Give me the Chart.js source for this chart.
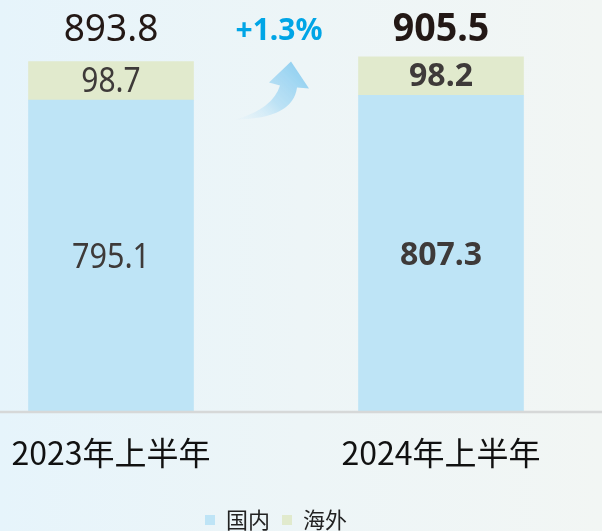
<!DOCTYPE html>
<html>
<head>
<meta charset="utf-8">
<script src="https://cdn.jsdelivr.net/npm/chart.js@4/dist/chart.umd.min.js"></script>
<style>
  html, body { margin:0; padding:0; width:602px; height:531px; overflow:hidden; }
  body { background: linear-gradient(90deg, #e6f4fb 0%, #edf5f7 50%, #f2f6f4 100%); }
  #wrap { position:absolute; left:0; top:0; width:602px; height:541px; }
</style>
</head>
<body>
<div id="wrap"><canvas id="c"></canvas></div>
<script>
// data (units as shown)
const categories = ['2023年上半年', '2024年上半年'];
const seriesNames = ['国内', '海外'];
const domestic = [795.1, 807.3];
const overseas = [98.7, 98.2];
const totals = [893.8, 905.5];
const growthText = '+1.3%';

const BLUE = '#bee4f6', GREEN = '#e1eacd';
const boldIdx = 1; // second year is highlighted in bold

function drawText(ctx, s, x, y, font, color, sx){
  ctx.save();
  ctx.translate(x, y);
  ctx.scale(sx || 1, 1);
  ctx.font = font;
  ctx.fillStyle = color;
  ctx.textAlign = 'center';
  ctx.textBaseline = 'middle';
  ctx.fillText(s, 0, 0);
  ctx.restore();
}

const decoPlugin = {
  id: 'deco',
  afterDatasetsDraw(chart){
    const ctx = chart.ctx;
    const ys = chart.scales.y;
    const m0 = chart.getDatasetMeta(0), m1 = chart.getDatasetMeta(1);
    const base = ys.getPixelForValue(0);

    // baseline across the full width
    ctx.save();
    ctx.strokeStyle = '#d6d8d8';
    ctx.lineWidth = 2.5;
    ctx.beginPath(); ctx.moveTo(0, base + 1); ctx.lineTo(chart.width, base + 1); ctx.stroke();
    ctx.restore();

    // value labels
    categories.forEach((_, i) => {
      const b = m0.data[i], o = m1.data[i];
      const bold = i === boldIdx;
      const x = b.x;
      drawText(ctx, domestic[i].toFixed(1), x, (b.y + b.base) / 2 + 3,
        bold ? 'bold 32px "Noto Sans"' : '34px "Noto Sans"', '#3e3a39', bold ? 1 : 0.9);
      drawText(ctx, overseas[i].toFixed(1), x, (o.y + o.base) / 2 + 1,
        bold ? 'bold 32px "Noto Sans"' : '34px "Noto Sans"', '#3e3a39', bold ? 1 : 0.88);
      drawText(ctx, totals[i].toFixed(1), x, ys.getPixelForValue(totals[0]) - 32,
        bold ? 'bold 40px "Noto Sans"' : '39px "Noto Sans"', '#231815', bold ? 0.94 : 0.95);
    });

    // growth arrow between the bars
    const cx = (m0.data[0].x + m0.data[1].x) / 2;
    const ty = ys.getPixelForValue(totals[0]);
    const g = ctx.createLinearGradient(cx - 40, ty + 60, cx + 20, ty);
    g.addColorStop(0, 'rgba(220,240,250,0.1)');
    g.addColorStop(0.5, 'rgba(175,220,244,0.8)');
    g.addColorStop(1, '#90cff0');
    ctx.save();
    ctx.fillStyle = g;
    ctx.beginPath();
    ctx.moveTo(cx + 15, ty);
    ctx.lineTo(cx + 33, ty + 27);
    ctx.lineTo(cx + 21, ty + 26);
    ctx.quadraticCurveTo(cx + 17, ty + 57, cx - 40, ty + 58);
    ctx.quadraticCurveTo(cx - 3, ty + 47, cx + 4, ty + 24);
    ctx.lineTo(cx - 7, ty + 21);
    ctx.closePath();
    ctx.fill();
    ctx.restore();

    drawText(ctx, growthText, cx + 3, ty - 30, 'bold 30px "Noto Sans"', '#00a5e6', 1);
  }
};

new Chart(document.getElementById('c'), {
  type: 'bar',
  data: {
    labels: categories,
    datasets: [
      { label: seriesNames[0], data: domestic, backgroundColor: BLUE, barThickness: 165, clip: false },
      { label: seriesNames[1], data: overseas, backgroundColor: GREEN, barThickness: 165, clip: false }
    ]
  },
  options: {
    responsive: true,
    maintainAspectRatio: false,
    devicePixelRatio: 1,
    animation: false,
    layout: { padding: { left: 111, right: 161, top: 20, bottom: 0 } },
    plugins: {
      tooltip: { enabled: false },
      legend: {
        position: 'bottom',
        labels: {
          boxWidth: 10, boxHeight: 10, padding: 12,
          color: '#222',
          font: { family: '"Noto Sans CJK SC"', size: 22 }
        }
      }
    },
    scales: {
      x: {
        stacked: true,
        offset: false,
        grid: { display: false, drawTicks: false },
        border: { display: false },
        ticks: { color: '#111', padding: 23, font: { family: '"Noto Sans CJK SC"', size: 32 } },
        afterFit(axis){ axis.height = 86; axis.paddingLeft = 0; axis.paddingRight = 0; }
      },
      y: {
        stacked: true,
        display: false,
        min: 0,
        max: 1000
      }
    }
  },
  plugins: [decoPlugin]
});
</script>
</body>
</html>
